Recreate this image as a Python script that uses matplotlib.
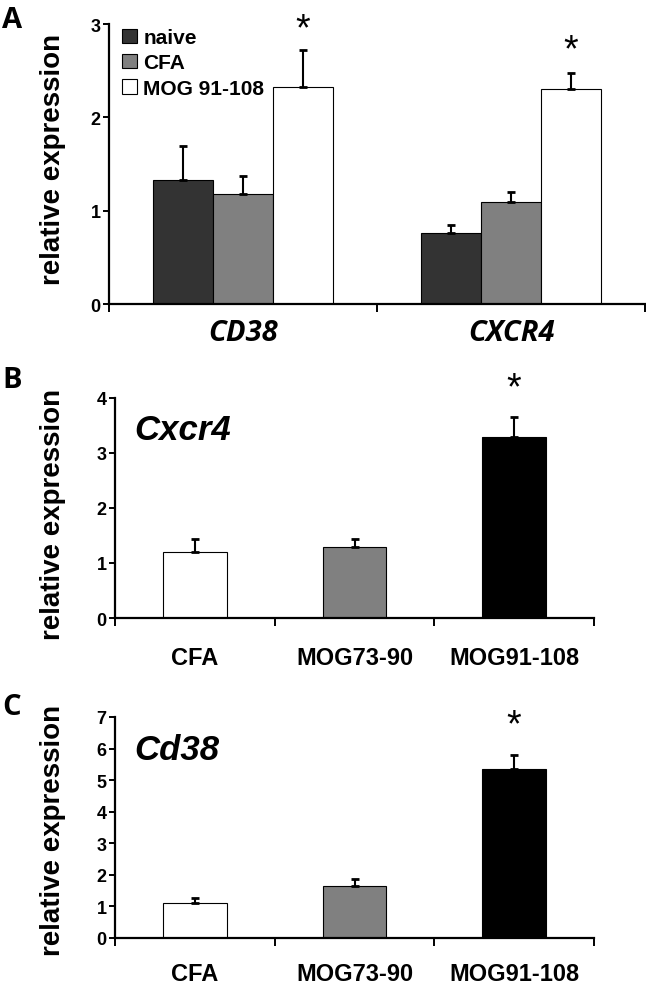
import matplotlib
matplotlib.use("Agg")
import matplotlib.pyplot as plt
import numpy as np

# ---------------- data ----------------
genes_a = ["CD38", "CXCR4"]
groups_a = ["naive", "CFA", "MOG 91-108"]
naive_vals = [1.325, 0.76]
naive_err = [0.365, 0.085]
cfa_vals = [1.175, 1.094]
cfa_err = [0.195, 0.106]
mog_vals = [2.33, 2.30]
mog_err = [0.395, 0.18]
colors_a = ["#333333", "#808080", "#ffffff"]

cats_bc = ["CFA", "MOG73-90", "MOG91-108"]
cxcr4_vals = [1.198, 1.283, 3.298]
cxcr4_err = [0.242, 0.151, 0.362]
cd38_vals = [1.109, 1.647, 5.343]
cd38_err = [0.169, 0.223, 0.444]
colors_bc = ["#ffffff", "#808080", "#000000"]

W, H = 646, 995
fig = plt.figure(figsize=(W / 100, H / 100), dpi=100)

BOLD = dict(family=["Liberation Sans", "DejaVu Sans"], weight="bold")


def ax_at(left, right, top, bottom):
    return fig.add_axes([left / W, 1 - bottom / H, (right - left) / W, (bottom - top) / H])


def style(ax, ymax, ylabel_x, ylabel_y):
    for s in ["top", "right"]:
        ax.spines[s].set_visible(False)
    for s in ["left", "bottom"]:
        ax.spines[s].set_linewidth(1.6)
        ax.spines[s].set_color("black")
    ax.set_ylim(0, ymax)
    ax.set_yticks(range(0, ymax + 1))
    ax.tick_params(axis="y", which="major", direction="out", length=4, width=1.4,
                   pad=2, labelsize=13)
    for lab in ax.get_yticklabels():
        lab.set_fontproperties(dict(**BOLD, size=13))
    ax.set_ylabel("relative expression", fontsize=20, **BOLD)
    ax.yaxis.set_label_coords(ylabel_x, ylabel_y)


# ---------------- Panel A ----------------
axA = ax_at(109, 645, 25, 305)
x = np.arange(len(genes_a))
w = 0.224
series = [(naive_vals, naive_err), (cfa_vals, cfa_err), (mog_vals, mog_err)]
for i, ((v, e), c, g) in enumerate(zip(series, colors_a, groups_a)):
    pos = x + (i - 1) * w
    axA.bar(pos, v, width=w, color=c, edgecolor="black", linewidth=0.8, label=g, zorder=2)
    axA.errorbar(pos, v, yerr=[np.zeros(len(e)), e], fmt="none", ecolor="black",
                 elinewidth=1.5, capsize=3, capthick=2, zorder=3)
axA.set_xlim(-0.5, 1.5)
style(axA, 3, -0.080, 0.521)
axA.set_xticks([-0.5, 0.5, 1.5])
axA.set_xticklabels([])
axA.tick_params(axis="x", which="major", direction="out", length=6, width=1.4)
axA.set_xticks(x, minor=True)
axA.set_xticklabels(genes_a, minor=True,
                    fontdict=dict(family=["Open Sans", "DejaVu Sans"], weight="bold",
                                  style="italic", size=21))
axA.tick_params(axis="x", which="minor", length=0, pad=10)
axA.text(x[0] + w, 2.94, "*", ha="center", va="center", fontsize=27,
         family=["Liberation Sans", "DejaVu Sans"], clip_on=False)
axA.text(x[1] + w, 2.72, "*", ha="center", va="center", fontsize=27,
         family=["Liberation Sans", "DejaVu Sans"], clip_on=False)
leg = axA.legend(loc="upper left", bbox_to_anchor=(0.025, 0.985), frameon=False,
                 prop=dict(**BOLD, size=15), handlelength=0.7, handleheight=0.7,
                 handletextpad=0.3, labelspacing=0.3, borderpad=0, borderaxespad=0)

# ---------------- Panel B / C ----------------
def panel(top, bottom, vals, errs, ymax, gene, star_y, ly, pad):
    ax = ax_at(115, 594, top, bottom)
    xx = np.arange(len(cats_bc))
    ax.bar(xx, vals, width=0.4, color=colors_bc, edgecolor="black", linewidth=0.8, zorder=2)
    ax.errorbar(xx, vals, yerr=[np.zeros(len(errs)), errs], fmt="none", ecolor="black",
                elinewidth=1.5, capsize=3, capthick=2, zorder=3)
    ax.set_xlim(-0.5, 2.5)
    style(ax, ymax, -0.102, ly)
    ax.set_xticks([-0.5, 0.5, 1.5, 2.5])
    ax.set_xticklabels([])
    ax.tick_params(axis="x", which="major", direction="out", length=6, width=1.4)
    ax.set_xticks(xx, minor=True)
    ax.set_xticklabels(cats_bc, minor=True, fontdict=dict(**BOLD, size=17))
    ax.tick_params(axis="x", which="minor", length=0, pad=pad)
    ax.text(0.04, 0.855, gene, transform=ax.transAxes, ha="left", va="center",
            fontsize=25, family=["Liberation Sans", "DejaVu Sans"], weight="bold",
            style="italic")
    ax.text(xx[2], star_y, "*", ha="center", va="center", fontsize=27,
            family=["Liberation Sans", "DejaVu Sans"], clip_on=False)
    return ax


axB = panel(399, 619, cxcr4_vals, cxcr4_err, 4, "Cxcr4", 4.17, 0.477, 20)
axC = panel(718, 939, cd38_vals, cd38_err, 7, "Cd38", 6.75, 0.493, 17)

# ---------------- panel letters ----------------
LET = dict(family=["Open Sans", "DejaVu Sans"], weight="bold", size=21, va="top", ha="left")
fig.text(2 / W, 1 - 6 / H, "A", **LET)
fig.text(2 / W, 1 - 366 / H, "B", **LET)
fig.text(2 / W, 1 - 693 / H, "C", **LET)

fig.savefig("out.png", dpi=100)
